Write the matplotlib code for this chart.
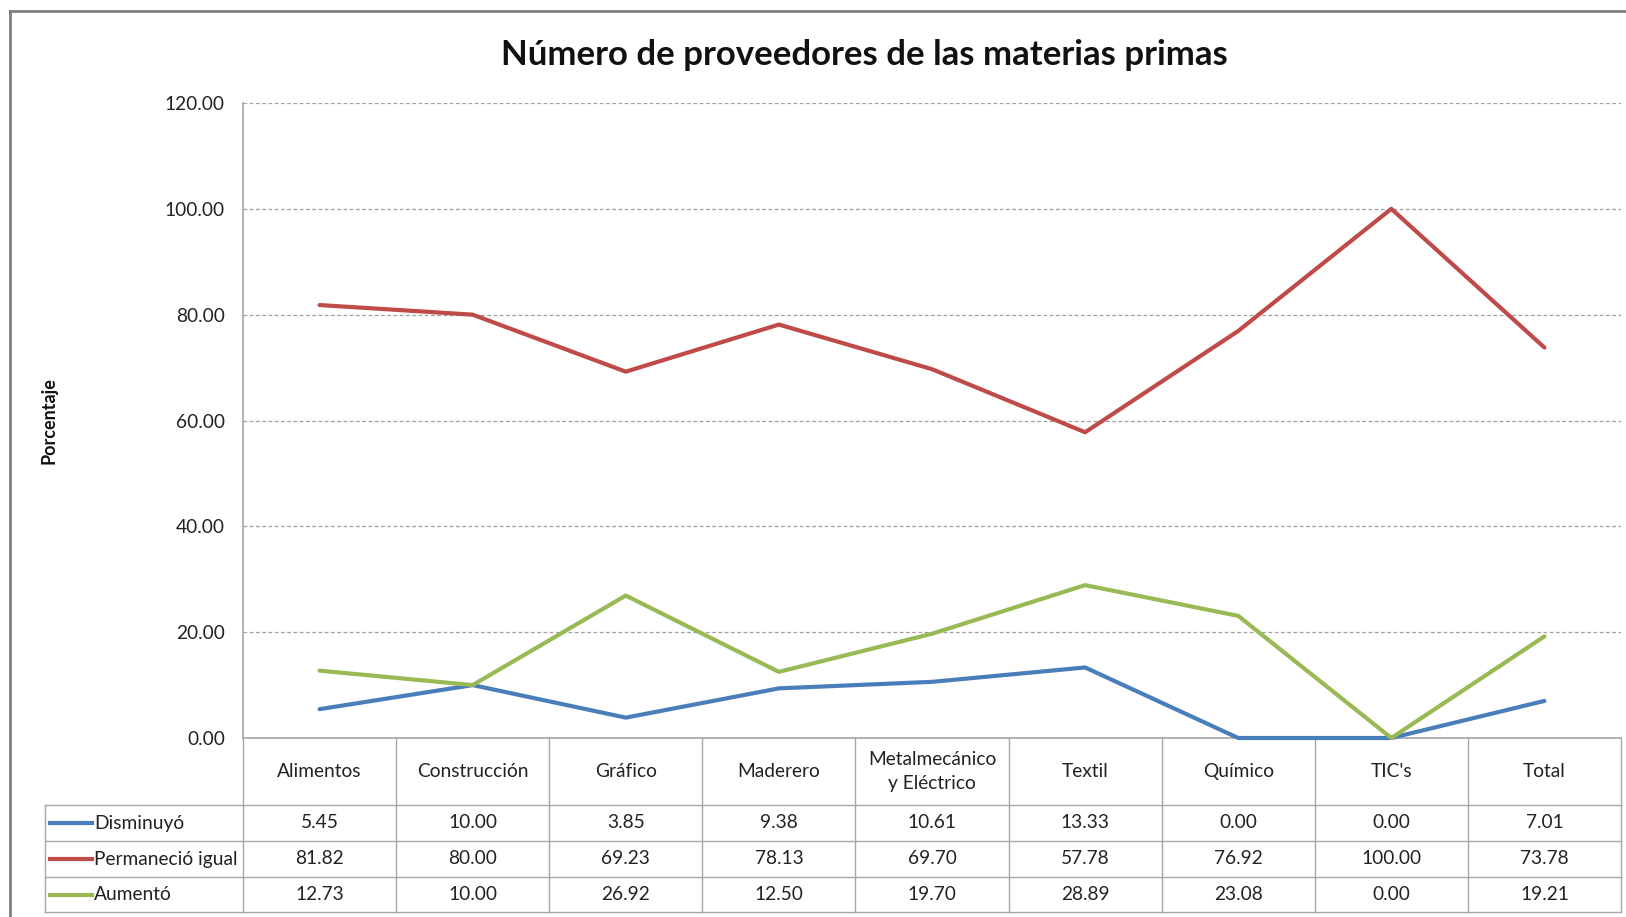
import matplotlib
matplotlib.use("Agg")
import matplotlib.pyplot as plt
from matplotlib.lines import Line2D

plt.rcParams['font.family'] = ['Lato', 'DejaVu Sans']

title = "Número de proveedores de las materias primas"
ylabel = "Porcentaje"
categories = ["Alimentos", "Construcción", "Gráfico", "Maderero",
              "Metalmecánico\ny Eléctrico", "Textil", "Químico", "TIC's", "Total"]
series_names = ["Disminuyó", "Permaneció igual", "Aumentó"]
disminuyo = [5.45, 10.00, 3.85, 9.38, 10.61, 13.33, 0.00, 0.00, 7.01]
permanecio = [81.82, 80.00, 69.23, 78.13, 69.70, 57.78, 76.92, 100.00, 73.78]
aumento = [12.73, 10.00, 26.92, 12.50, 19.70, 28.89, 23.08, 0.00, 19.21]
yticks = [0, 20, 40, 60, 80, 100, 120]
colors = ["#4A7EBB", "#BE4B48", "#98B954"]
series = [disminuyo, permanecio, aumento]

FS = 13.8
TXT = "#222222"

W, H = 1626, 917
fig = plt.figure(figsize=(W / 100, H / 100), dpi=100)

# overlay axes in pixel coordinates for frame and table
ov = fig.add_axes([0, 0, 1, 1])
ov.set_xlim(0, W)
ov.set_ylim(H, 0)
ov.axis('off')

# outer frame
ov.add_line(Line2D([10, 10], [11, H + 5], color="#7f7f7f", lw=2))
ov.add_line(Line2D([10, W + 5], [11, 11], color="#7f7f7f", lw=2))

x0, x1 = 243, 1621
ytop, y0 = 103, 738
ax = fig.add_axes([x0 / W, 1 - y0 / H, (x1 - x0) / W, (y0 - ytop) / H])
n = len(categories)
ax.set_xlim(-0.5, n - 0.5)
ax.set_ylim(0, 120)
ax.set_yticks(yticks)
ax.set_yticklabels([f"{v:.2f}" for v in yticks], fontsize=FS, color=TXT)
ax.set_xticks([])
ax.tick_params(axis='y', length=0, pad=13)
for s in ['top', 'right']:
    ax.spines[s].set_visible(False)
ax.spines['left'].set_color("#a6a6a6")
ax.spines['bottom'].set_color("#a6a6a6")
ax.spines['left'].set_linewidth(1.2)
ax.spines['bottom'].set_linewidth(1.2)
ax.grid(axis='y', color="#a0a0a0", linestyle=(0, (3, 2)), linewidth=0.9)
ax.set_axisbelow(True)

ov.text(49, (ytop + y0) / 2, ylabel, rotation=90, ha='center', va='center',
        fontsize=13, fontweight='bold', color="#111111")

xs = list(range(n))
for vals, c in zip(series, colors):
    ax.plot(xs, vals, color=c, lw=3, clip_on=False, solid_capstyle='round', zorder=3)

ov.text(864, 55, title, ha='center', va='center', fontsize=25, fontweight='bold', color="#111111")

# table
colw = (x1 - x0) / n
rows_y = [738, 805, 841, 877, 912]
grid_c = "#a6a6a6"
leg_left = 45
for i in range(n + 1):
    xx = x0 + i * colw
    ov.add_line(Line2D([xx, xx], [rows_y[0], rows_y[-1]], color=grid_c, lw=1))
ov.add_line(Line2D([leg_left, leg_left], [rows_y[1], rows_y[-1]], color=grid_c, lw=1))
for yy in rows_y[1:]:
    ov.add_line(Line2D([leg_left, x1], [yy, yy], color=grid_c, lw=1))

for i, cat in enumerate(categories):
    cx = x0 + (i + 0.5) * colw
    ov.text(cx, (rows_y[0] + rows_y[1]) / 2, cat, ha='center', va='center',
            fontsize=FS, color=TXT, linespacing=1.55)

for r, (name, vals, c) in enumerate(zip(series_names, series, colors)):
    cy = (rows_y[r + 1] + rows_y[r + 2]) / 2
    ov.add_line(Line2D([50, 92], [cy, cy], color=c, lw=3))
    ov.text(94, cy, name, ha='left', va='center', fontsize=FS, color=TXT)
    for i, v in enumerate(vals):
        cx = x0 + (i + 0.5) * colw
        ov.text(cx, cy, f"{v:.2f}", ha='center', va='center', fontsize=FS, color=TXT)

fig.savefig("out.png", dpi=100)
